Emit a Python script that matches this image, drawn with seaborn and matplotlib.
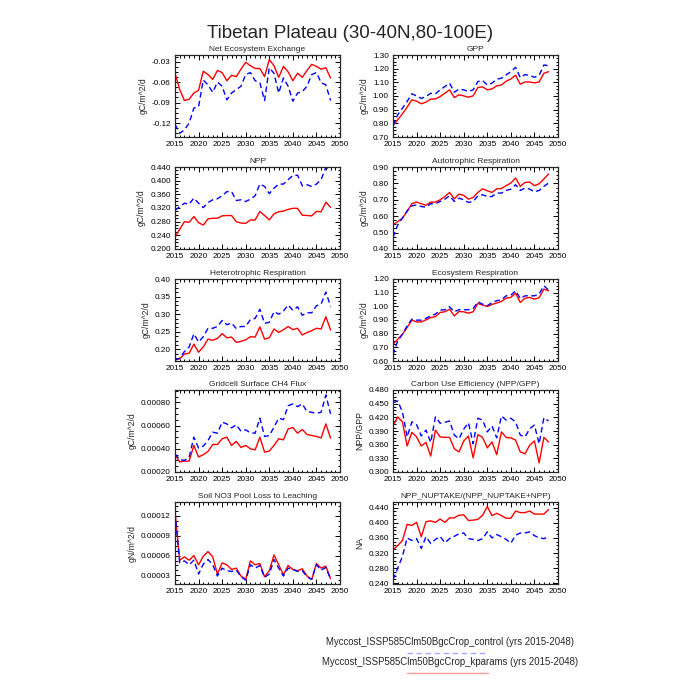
import matplotlib
matplotlib.use('Agg')
import matplotlib.pyplot as plt
from matplotlib.lines import Line2D
from matplotlib.ticker import MultipleLocator, AutoMinorLocator, FormatStrFormatter
import pandas as pd
import seaborn as sns

# %% data (yearly means, 2015-2048)
years = list(range(2015, 2049))

nee_control = [-0.122, -0.135, -0.130, -0.120, -0.098, -0.096, -0.057, -0.064, -0.075, -0.060,
               -0.066, -0.086, -0.076, -0.071, -0.066, -0.049, -0.046, -0.058, -0.061, -0.087,
               -0.039, -0.047, -0.076, -0.054, -0.066, -0.088, -0.076, -0.074, -0.066, -0.049,
               -0.046, -0.061, -0.064, -0.087]
nee_kparams = [-0.047, -0.071, -0.087, -0.085, -0.076, -0.072, -0.044, -0.049, -0.056, -0.043,
               -0.046, -0.058, -0.050, -0.052, -0.041, -0.031, -0.036, -0.040, -0.040, -0.052,
               -0.027, -0.036, -0.053, -0.037, -0.045, -0.058, -0.047, -0.053, -0.043, -0.034,
               -0.037, -0.041, -0.039, -0.054]

gpp_control = [0.783, 0.863, 0.911, 0.960, 1.016, 1.001, 0.982, 0.996, 1.020, 1.016,
               1.045, 1.069, 1.094, 1.028, 1.050, 1.045, 1.033, 1.045, 1.106, 1.113,
               1.081, 1.094, 1.123, 1.130, 1.154, 1.178, 1.210, 1.135, 1.157, 1.149,
               1.137, 1.152, 1.227, 1.222]
gpp_kparams = [0.783, 0.826, 0.870, 0.919, 0.972, 0.962, 0.943, 0.955, 0.977, 0.979,
               0.996, 1.020, 1.045, 0.989, 1.009, 1.001, 0.991, 1.001, 1.062, 1.067,
               1.045, 1.052, 1.074, 1.081, 1.108, 1.125, 1.152, 1.086, 1.103, 1.103,
               1.096, 1.103, 1.166, 1.178]

npp_control = [0.313, 0.324, 0.334, 0.331, 0.349, 0.334, 0.321, 0.336, 0.344, 0.347,
               0.356, 0.368, 0.368, 0.342, 0.344, 0.339, 0.346, 0.356, 0.390, 0.383,
               0.362, 0.378, 0.390, 0.390, 0.403, 0.415, 0.416, 0.385, 0.388, 0.383,
               0.390, 0.403, 0.439, 0.429]
npp_kparams = [0.234, 0.258, 0.280, 0.278, 0.295, 0.277, 0.270, 0.288, 0.290, 0.290,
               0.297, 0.298, 0.298, 0.280, 0.276, 0.275, 0.285, 0.285, 0.310, 0.298,
               0.285, 0.303, 0.309, 0.311, 0.316, 0.319, 0.319, 0.299, 0.298, 0.297,
               0.310, 0.309, 0.337, 0.322]

ar_control = [0.471, 0.547, 0.588, 0.633, 0.663, 0.669, 0.659, 0.655, 0.676, 0.676,
              0.690, 0.704, 0.724, 0.690, 0.710, 0.700, 0.684, 0.690, 0.724, 0.731,
              0.720, 0.720, 0.741, 0.741, 0.757, 0.765, 0.792, 0.757, 0.771, 0.765,
              0.749, 0.757, 0.782, 0.802]
ar_kparams = [0.547, 0.567, 0.588, 0.629, 0.676, 0.686, 0.676, 0.667, 0.686, 0.686,
              0.700, 0.720, 0.745, 0.706, 0.735, 0.727, 0.704, 0.714, 0.745, 0.767,
              0.755, 0.745, 0.767, 0.769, 0.786, 0.802, 0.833, 0.782, 0.806, 0.808,
              0.786, 0.798, 0.827, 0.857]

hr_control = [0.170, 0.175, 0.194, 0.207, 0.244, 0.221, 0.236, 0.260, 0.260, 0.265,
              0.282, 0.270, 0.275, 0.259, 0.265, 0.265, 0.285, 0.288, 0.314, 0.274,
              0.277, 0.307, 0.300, 0.309, 0.326, 0.311, 0.321, 0.297, 0.304, 0.304,
              0.324, 0.329, 0.363, 0.322]
hr_kparams = [0.170, 0.173, 0.187, 0.189, 0.215, 0.192, 0.207, 0.229, 0.226, 0.231,
              0.245, 0.233, 0.235, 0.220, 0.223, 0.227, 0.236, 0.235, 0.264, 0.229,
              0.233, 0.258, 0.248, 0.256, 0.265, 0.256, 0.260, 0.241, 0.248, 0.253,
              0.260, 0.258, 0.293, 0.255]

er_control = [0.644, 0.747, 0.796, 0.857, 0.906, 0.899, 0.899, 0.913, 0.930, 0.943,
              0.972, 0.975, 0.997, 0.960, 0.975, 0.975, 0.975, 0.984, 1.033, 1.016,
              1.004, 1.028, 1.041, 1.048, 1.077, 1.082, 1.114, 1.058, 1.077, 1.077,
              1.077, 1.090, 1.151, 1.119]
er_kparams = [0.722, 0.759, 0.796, 0.845, 0.899, 0.886, 0.886, 0.901, 0.918, 0.925,
              0.955, 0.960, 0.979, 0.930, 0.962, 0.960, 0.950, 0.960, 1.021, 1.009,
              0.999, 1.014, 1.024, 1.036, 1.060, 1.065, 1.097, 1.028, 1.060, 1.065,
              1.053, 1.063, 1.126, 1.114]

ch4_control = [0.000357, 0.000306, 0.000300, 0.000329, 0.000500, 0.000406, 0.000423, 0.000471,
               0.000543, 0.000534, 0.000629, 0.000614, 0.000580, 0.000606, 0.000551, 0.000563,
               0.000537, 0.000534, 0.000663, 0.000506, 0.000514, 0.000586, 0.000663, 0.000651,
               0.000771, 0.000786, 0.000763, 0.000786, 0.000720, 0.000714, 0.000706, 0.000714,
               0.000863, 0.000700]
ch4_kparams = [0.000349, 0.000286, 0.000294, 0.000294, 0.000429, 0.000329, 0.000349, 0.000377,
               0.000437, 0.000437, 0.000486, 0.000500, 0.000429, 0.000463, 0.000411, 0.000429,
               0.000400, 0.000391, 0.000500, 0.000371, 0.000380, 0.000429, 0.000486, 0.000477,
               0.000571, 0.000583, 0.000534, 0.000566, 0.000523, 0.000514, 0.000506, 0.000494,
               0.000614, 0.000491]

cue_control = [0.452, 0.456, 0.432, 0.377, 0.410, 0.404, 0.379, 0.392, 0.365, 0.421,
               0.407, 0.409, 0.412, 0.381, 0.373, 0.394, 0.408, 0.362, 0.418, 0.414,
               0.388, 0.401, 0.375, 0.423, 0.414, 0.418, 0.410, 0.381, 0.377, 0.395,
               0.403, 0.362, 0.419, 0.412]
cue_kparams = [0.401, 0.421, 0.410, 0.357, 0.387, 0.377, 0.357, 0.365, 0.335, 0.392,
               0.377, 0.376, 0.376, 0.351, 0.344, 0.368, 0.379, 0.331, 0.382, 0.376,
               0.353, 0.366, 0.338, 0.388, 0.376, 0.375, 0.370, 0.344, 0.340, 0.359,
               0.368, 0.320, 0.376, 0.366]

no3_control = [0.000125, 0.000049, 0.000052, 0.000046, 0.000053, 0.000032, 0.000047, 0.000054,
               0.000046, 0.000029, 0.000041, 0.000037, 0.000036, 0.000038, 0.000028, 0.000023,
               0.000046, 0.000041, 0.000045, 0.000027, 0.000032, 0.000054, 0.000041, 0.000029,
               0.000041, 0.000039, 0.000036, 0.000037, 0.000028, 0.000024, 0.000046, 0.000038,
               0.000042, 0.000024]
no3_kparams = [0.000127, 0.000053, 0.000058, 0.000053, 0.000060, 0.000046, 0.000059, 0.000066,
               0.000058, 0.000032, 0.000049, 0.000046, 0.000039, 0.000041, 0.000029, 0.000024,
               0.000052, 0.000046, 0.000048, 0.000028, 0.000037, 0.000061, 0.000046, 0.000031,
               0.000045, 0.000039, 0.000037, 0.000040, 0.000029, 0.000024, 0.000048, 0.000041,
               0.000044, 0.000025]

nup_control = [0.249, 0.280, 0.311, 0.360, 0.353, 0.358, 0.332, 0.363, 0.345, 0.356,
               0.364, 0.347, 0.358, 0.364, 0.371, 0.373, 0.358, 0.356, 0.353, 0.358,
               0.376, 0.360, 0.369, 0.363, 0.356, 0.346, 0.367, 0.373, 0.373, 0.376,
               0.366, 0.360, 0.358, 0.363]
nup_kparams = [0.328, 0.340, 0.353, 0.396, 0.393, 0.401, 0.363, 0.403, 0.405, 0.401,
               0.410, 0.401, 0.413, 0.413, 0.420, 0.421, 0.406, 0.407, 0.409, 0.420,
               0.443, 0.419, 0.425, 0.419, 0.412, 0.412, 0.431, 0.427, 0.427, 0.431,
               0.423, 0.423, 0.423, 0.435]

control_label = 'Myccost_ISSP585Clm50BgcCrop_control (yrs 2015-2048)'
kparams_label = 'Myccost_ISSP585Clm50BgcCrop_kparams (yrs 2015-2048)'

# title, y label, control, kparams, y limits, y tick step, tick format
panels = [
    ('Net Ecosystem Exchange', 'gC/m^2/d', nee_control, nee_kparams, (-0.1404, -0.0203), 0.03, '%.2f'),
    ('GPP', 'gC/m^2/d', gpp_control, gpp_kparams, (0.70, 1.30), 0.10, '%.2f'),
    ('NPP', 'gC/m^2/d', npp_control, npp_kparams, (0.200, 0.440), 0.04, '%.3f'),
    ('Autotrophic Respiration', 'gC/m^2/d', ar_control, ar_kparams, (0.40, 0.90), 0.10, '%.2f'),
    ('Heterotrophic Respiration', 'gC/m^2/d', hr_control, hr_kparams, (0.167, 0.40), 0.05, '%.2f'),
    ('Ecosystem Respiration', 'gC/m^2/d', er_control, er_kparams, (0.60, 1.20), 0.10, '%.2f'),
    ('Gridcell Surface CH4 Flux', 'gC/m^2/d', ch4_control, ch4_kparams, (0.0002, 0.000906), 0.0002, '%.5f'),
    ('Carbon Use Efficiency (NPP/GPP)', 'NPP/GPP', cue_control, cue_kparams, (0.300, 0.480), 0.03, '%.3f'),
    ('Soil NO3 Pool Loss to Leaching', 'gN/m^2/d', no3_control, no3_kparams, (0.000017, 0.000141), 0.00003, '%.5f'),
    ('NPP_NUPTAKE/(NPP_NUPTAKE+NPP)', 'NA', nup_control, nup_kparams, (0.238, 0.455), 0.04, '%.3f'),
]

# %% style
sns.set_theme(style='ticks')
plt.rcParams['font.family'] = ['Liberation Sans', 'DejaVu Sans']
plt.rcParams['axes.linewidth'] = 0.9

fig = plt.figure(figsize=(7, 7), dpi=100)

W, H = 700.0, 700.0
col_left = [175, 393]
row_top = [55, 167, 279, 390, 502]
ax_w, ax_h = 165, 82

for i, (title, ylab, ctl, kp, ylim, step, fmt) in enumerate(panels):
    r, c = divmod(i, 2)
    ax = fig.add_axes([col_left[c] / W, 1 - (row_top[r] + ax_h) / H, ax_w / W, ax_h / H])
    df = pd.DataFrame({'year': years, 'control': ctl, 'kparams': kp})
    sns.lineplot(data=df, x='year', y='kparams', ax=ax, color='#ff0000', lw=1.0)
    sns.lineplot(data=df, x='year', y='control', ax=ax, color='#0000ff', lw=1.0,
                 linestyle=(0, (4, 2.5)))
    ax.set_xlim(2015, 2050)
    ax.set_ylim(*ylim)
    ax.xaxis.set_major_locator(MultipleLocator(5))
    ax.xaxis.set_minor_locator(MultipleLocator(1))
    ax.yaxis.set_major_locator(MultipleLocator(step))
    ax.yaxis.set_minor_locator(AutoMinorLocator(4))
    ax.yaxis.set_major_formatter(FormatStrFormatter(fmt))
    ax.tick_params(which='both', direction='in', top=True, right=True, labelsize=5.9,
                   width=0.7, pad=3, colors='black')
    ax.tick_params(which='major', length=3.5)
    ax.tick_params(which='minor', length=1.8)
    ax.set_title(title, fontsize=6.0, pad=3)
    ax.set_ylabel(ylab, fontsize=6.2, labelpad=3)
    ax.set_xlabel('')

fig.text(0.5, 1 - 38 / H, 'Tibetan Plateau (30-40N,80-100E)', ha='center', va='baseline', fontsize=13.5)

# legend (NCL style: label over a short line sample)
fig.text(450 / W, 1 - 642 / H, control_label, ha='center', va='center', fontsize=6.9)
fig.text(450 / W, 1 - 662 / H, kparams_label, ha='center', va='center', fontsize=6.9)
fig.add_artist(Line2D([407 / W, 488 / W], [1 - 653 / H] * 2, transform=fig.transFigure,
                      color='#a8a8ff', lw=1.0, linestyle=(0, (4, 2.5))))
fig.add_artist(Line2D([407 / W, 488 / W], [1 - 673 / H] * 2, transform=fig.transFigure,
                      color='#ff9a9a', lw=1.0))

fig.savefig('out.png', dpi=100, facecolor='white')
